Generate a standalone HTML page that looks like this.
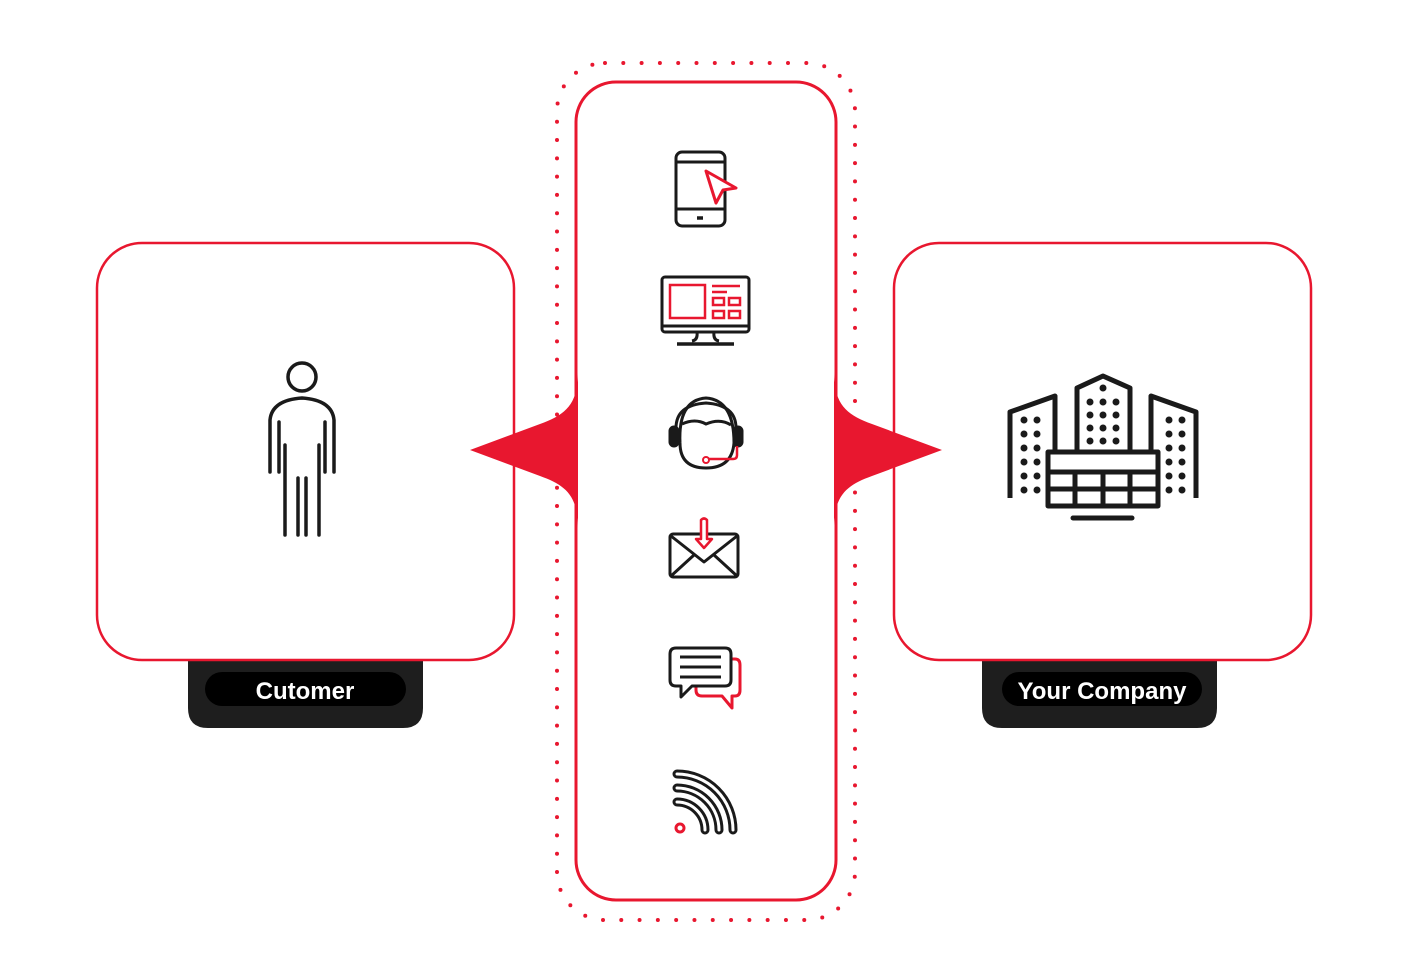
<!DOCTYPE html>
<html><head><meta charset="utf-8"><style>
html,body{margin:0;padding:0;background:#fff;}
svg{display:block}
text{font-family:"Liberation Sans",sans-serif;font-weight:bold;}
</style></head><body>
<svg width="1405" height="973" viewBox="0 0 1405 973" xmlns="http://www.w3.org/2000/svg">
<path d="M188,655 H423 V708 Q423,728 403,728 H208 Q188,728 188,708 Z" fill="#1e1e1e"/>
<rect x="205" y="672" width="201" height="34" rx="17" fill="#000"/>
<text x="305" y="699" font-size="24" fill="#fff" text-anchor="middle">Cutomer</text>
<path d="M982,655 H1217 V708 Q1217,728 1197,728 H1002 Q982,728 982,708 Z" fill="#1e1e1e"/>
<rect x="1002" y="672" width="200" height="34" rx="17" fill="#000"/>
<text x="1102" y="699" font-size="24" fill="#fff" text-anchor="middle">Your Company</text>
<rect x="97" y="243" width="417" height="417" rx="45" fill="#fff" stroke="#e8172f" stroke-width="2.5"/>
<rect x="894" y="243" width="417" height="417" rx="45" fill="#fff" stroke="#e8172f" stroke-width="2.5"/>
<rect x="557" y="63" width="298" height="857" rx="48" fill="none" stroke="#e8172f" stroke-width="4" stroke-dasharray="0 18.3" stroke-linecap="round"/>
<path d="M578,372 C578,405 565,415 540,424 L470,450 L540,476 C565,485 578,495 578,528 Z" fill="#e8172f"/>
<path d="M834,372 C834,405 847,415 872,424 L942,450 L872,476 C847,485 834,495 834,528 Z" fill="#e8172f"/>
<rect x="576" y="82" width="260" height="818" rx="40" fill="none" stroke="#e8172f" stroke-width="3"/>
<g fill="none" stroke="#1a1a1a" stroke-width="3.5" stroke-linecap="round" stroke-linejoin="round">
<circle cx="302" cy="377" r="14"/>
<path d="M270,472 V420 Q272,400 302,398 Q332,400 334,420 V472"/>
<path d="M279,472 V422 M325,472 V422"/>
<path d="M285,535 V445 M298,535 V478 M306,535 V478 M319,535 V445"/>
</g>
<g fill="none" stroke="#1a1a1a" stroke-width="5" stroke-linejoin="round">
<path d="M1010,498 V412 L1055,396 V452"/>
<path d="M1077,452 V388 L1103,376 L1130,388 V452"/>
<path d="M1196,498 V412 L1151,396 V452"/>
<rect x="1048" y="452" width="110" height="54"/>
<path d="M1048,472 H1158 M1048,489 H1158 M1075,472 V506 M1103,472 V506 M1130,472 V506"/>
<path d="M1073,518 H1132" stroke-width="5" stroke-linecap="round"/>
</g>
<g fill="#1a1a1a">
<circle cx="1103" cy="388" r="3.5"/>
<g id="r3"><circle cx="1090" cy="402" r="3.5"/><circle cx="1103" cy="402" r="3.5"/><circle cx="1116" cy="402" r="3.5"/></g>
<use href="#r3" y="13"/><use href="#r3" y="26"/><use href="#r3" y="39"/>
<g id="c2"><circle cx="1024" cy="420" r="3.5"/><circle cx="1037" cy="420" r="3.5"/><circle cx="1169" cy="420" r="3.5"/><circle cx="1182" cy="420" r="3.5"/></g>
<use href="#c2" y="14"/><use href="#c2" y="28"/><use href="#c2" y="42"/><use href="#c2" y="56"/><use href="#c2" y="70"/>
</g>
<g fill="none" stroke="#1a1a1a" stroke-width="3" stroke-linejoin="round">
<rect x="676" y="152" width="49" height="74" rx="6"/>
<path d="M676,162 H725 M676,209 H725"/><path d="M697,218 H703" stroke-width="3.5"/>
</g>
<path d="M706,171 L736,188 L723,190 L716,203 Z" fill="#fff" stroke="#e8172f" stroke-width="3" stroke-linejoin="round"/>
<g fill="none" stroke="#1a1a1a" stroke-width="3">
<rect x="662" y="277" width="87" height="55" rx="3"/><path d="M662,326 H749 M697,332 Q698,340 692,341 M714,332 Q713,340 719,341"/>
<path d="M677,344 H734" stroke-width="3.5"/>
</g>
<g fill="none" stroke="#e8172f" stroke-width="2.5">
<rect x="670" y="285" width="35" height="33"/><path d="M712,286 H740 M712,292 H727"/>
<rect x="713" y="298" width="11" height="7"/><rect x="729" y="298" width="11" height="7"/>
<rect x="713" y="311" width="11" height="7"/><rect x="729" y="311" width="11" height="7"/>
</g>
<g fill="none" stroke="#1a1a1a" stroke-width="3">
<path d="M680,443 Q678,400 706,398 Q734,400 734,443 Q732,468 706,468 Q680,468 680,443"/>
<path d="M682,424 Q695,418 706,424 Q720,418 731,425"/>
<path d="M676,428 Q676,405 706,403 Q736,405 736,428"/>
<rect x="670" y="427" width="8" height="19" rx="4" fill="#1a1a1a"/><rect x="734" y="427" width="8" height="19" rx="4" fill="#1a1a1a"/>
</g>
<path d="M737,446 V455 Q737,459 733,459 H709" fill="none" stroke="#e8172f" stroke-width="2.5"/>
<circle cx="706" cy="460" r="3" fill="#fff" stroke="#e8172f" stroke-width="2"/>
<g fill="none" stroke="#1a1a1a" stroke-width="3" stroke-linejoin="round">
<rect x="670" y="534" width="68" height="43" rx="3"/><path d="M671,536 L704,562 L737,536 M671,576 L694,555 M737,576 L714,555"/>
</g>
<path d="M701,520 V539 H696 L704,548 L712,539 H707 V520 Q704,517 701,520 Z" fill="#fff" stroke="#e8172f" stroke-width="2.5" stroke-linejoin="round"/>
<path d="M725,659 H735 Q740,659 740,665 V690 Q740,696 735,696 H732 V708 L722,696 H702 Q696,696 696,690 V683" fill="none" stroke="#e8172f" stroke-width="3" stroke-linejoin="round"/>
<path d="M676,648 H725 Q731,648 731,654 V680 Q731,686 725,686 H692 L681,697 V686 H676 Q670,686 670,680 V654 Q670,648 676,648 Z" fill="#fff" stroke="#1a1a1a" stroke-width="3" stroke-linejoin="round"/>
<path d="M680,657 H721 M680,667 H721 M680,677 H721" stroke="#1a1a1a" stroke-width="3"/>
<g fill="none" stroke-linecap="round">
<g stroke="#1a1a1a" stroke-width="9">
<path d="M677,774 A56,56 0 0 1 733,830"/>
<path d="M677,788 A42,42 0 0 1 719,830"/>
<path d="M677,802 A28,28 0 0 1 705,830"/>
</g>
<g stroke="#fff" stroke-width="3">
<path d="M677,774 A56,56 0 0 1 733,830"/>
<path d="M677,788 A42,42 0 0 1 719,830"/>
<path d="M677,802 A28,28 0 0 1 705,830"/>
</g>
</g>
<circle cx="680" cy="828" r="4" fill="#fff" stroke="#e8172f" stroke-width="3"/>
</svg>
</body></html>
